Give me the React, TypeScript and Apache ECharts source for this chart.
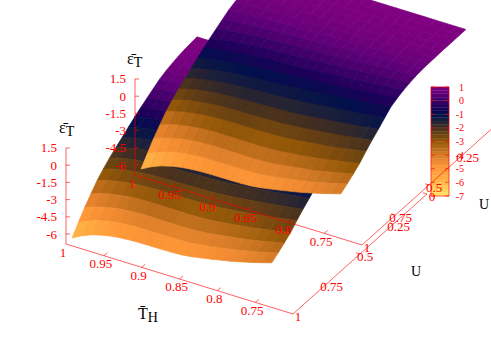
import React, { useEffect, useRef } from "react";
import * as echarts from "echarts";

const thValues = [0.992,0.979,0.966,0.952,0.939,0.926,0.913,0.9,0.886,0.873,0.86,0.847,0.834,0.82,0.807,0.794,0.781,0.768,0.754,0.741,0.728];
const uValues = [1,0.953,0.907,0.86,0.813,0.767,0.72,0.673,0.627,0.58,0.533,0.487,0.44,0.393,0.347,0.3,0.253,0.207,0.16,0.113,0.067];
// rows follow uValues, columns follow thValues
const zGrid = [
[-6.05,-5.6,-5.25,-5,-4.83,-4.73,-4.67,-4.65,-4.64,-4.63,-4.62,-4.58,-4.47,-4.31,-4.15,-3.97,-3.8,-3.58,-3.35,-3.1,-2.85],
[-5.2,-4.81,-4.5,-4.29,-4.15,-4.07,-4.02,-4.02,-4.02,-4.02,-4.02,-3.99,-3.9,-3.76,-3.63,-3.47,-3.33,-3.13,-2.93,-2.71,-2.48],
[-4.4,-4.06,-3.81,-3.62,-3.5,-3.44,-3.4,-3.4,-3.41,-3.42,-3.43,-3.41,-3.33,-3.22,-3.1,-2.96,-2.84,-2.67,-2.49,-2.29,-2.1],
[-3.68,-3.38,-3.16,-3,-2.89,-2.83,-2.81,-2.81,-2.81,-2.82,-2.83,-2.81,-2.75,-2.65,-2.55,-2.43,-2.32,-2.16,-2.01,-1.84,-1.66],
[-3,-2.74,-2.53,-2.38,-2.28,-2.22,-2.19,-2.18,-2.18,-2.17,-2.17,-2.15,-2.09,-1.99,-1.9,-1.79,-1.69,-1.56,-1.42,-1.26,-1.11],
[-2.48,-2.22,-2.02,-1.88,-1.78,-1.71,-1.67,-1.65,-1.64,-1.62,-1.61,-1.58,-1.51,-1.42,-1.33,-1.22,-1.13,-1.01,-0.88,-0.75,-0.61],
[-2,-1.76,-1.57,-1.43,-1.33,-1.26,-1.21,-1.18,-1.15,-1.12,-1.1,-1.06,-0.99,-0.9,-0.81,-0.71,-0.62,-0.51,-0.39,-0.27,-0.15],
[-1.58,-1.35,-1.16,-1.01,-0.9,-0.82,-0.76,-0.71,-0.67,-0.62,-0.58,-0.52,-0.45,-0.35,-0.26,-0.16,-0.07,0.03,0.14,0.25,0.35],
[-1.2,-0.97,-0.78,-0.63,-0.51,-0.42,-0.34,-0.28,-0.23,-0.17,-0.11,-0.04,0.05,0.14,0.23,0.33,0.42,0.52,0.61,0.71,0.81],
[-0.79,-0.58,-0.41,-0.27,-0.15,-0.07,0.01,0.07,0.13,0.19,0.25,0.32,0.4,0.49,0.58,0.66,0.74,0.83,0.92,1,1.08],
[-0.4,-0.21,-0.06,0.07,0.17,0.25,0.31,0.38,0.44,0.49,0.55,0.62,0.69,0.77,0.85,0.92,1,1.07,1.15,1.22,1.29],
[-0.04,0.12,0.26,0.37,0.46,0.53,0.6,0.65,0.7,0.76,0.81,0.87,0.94,1.01,1.07,1.14,1.21,1.27,1.33,1.39,1.45],
[0.3,0.43,0.55,0.64,0.72,0.78,0.83,0.89,0.93,0.98,1.03,1.08,1.14,1.2,1.26,1.31,1.36,1.42,1.47,1.52,1.56],
[0.63,0.74,0.83,0.9,0.96,1.01,1.06,1.1,1.13,1.17,1.21,1.25,1.3,1.35,1.39,1.44,1.48,1.52,1.56,1.59,1.63],
[0.95,1.02,1.09,1.14,1.18,1.22,1.25,1.28,1.31,1.34,1.37,1.4,1.43,1.47,1.5,1.53,1.56,1.59,1.61,1.64,1.67],
[1.18,1.23,1.27,1.31,1.34,1.37,1.39,1.41,1.43,1.45,1.47,1.49,1.52,1.54,1.56,1.58,1.61,1.63,1.65,1.67,1.68],
[1.35,1.38,1.41,1.44,1.46,1.48,1.5,1.51,1.52,1.54,1.55,1.57,1.58,1.6,1.61,1.63,1.64,1.66,1.67,1.69,1.7],
[1.49,1.51,1.53,1.54,1.56,1.57,1.58,1.59,1.6,1.61,1.62,1.62,1.63,1.64,1.65,1.66,1.67,1.67,1.68,1.69,1.71],
[1.6,1.61,1.62,1.62,1.63,1.64,1.64,1.65,1.65,1.66,1.66,1.67,1.67,1.67,1.68,1.68,1.69,1.69,1.7,1.7,1.71],
[1.67,1.67,1.68,1.68,1.68,1.68,1.69,1.69,1.69,1.69,1.7,1.7,1.7,1.7,1.7,1.7,1.71,1.71,1.71,1.71,1.71],
[1.72,1.72,1.72,1.72,1.72,1.72,1.72,1.72,1.72,1.72,1.72,1.72,1.72,1.72,1.72,1.72,1.72,1.72,1.72,1.72,1.72],
];
// colour value read along the two side edges, per row of uValues
const edgeColourLeft = [-6.3,-5.5,-4.7,-4,-3.3,-2.8,-2.3,-1.9,-1.5,-1.1,-0.7,-0.35,0,0.3,0.55,0.7,0.8,0.88,0.94,0.98,1];
const edgeColourRight = [-4.2,-3.7,-3.2,-2.7,-2.25,-1.8,-1.35,-0.95,-0.6,-0.3,0,0.25,0.45,0.6,0.72,0.8,0.86,0.91,0.95,0.98,1];
// colour ripple along the front edge, per column of thValues
const frontRipple = [0,0.15,0.3,0.38,0.44,0.47,0.47,0.42,0.3,0.15,0,-0.05,-0.1,-0.12,-0.14,-0.15,-0.15,-0.12,-0.08,-0.04,0];

const thTicks = [1,0.95,0.9,0.85,0.8,0.75];
const thTickLabels = ["1","0.95","0.9","0.85","0.8","0.75"];
const uTicks = [1,0.75,0.5,0.25,0];
const uTickLabels = ["1","0.75","0.5","0.25","0"];
const zTicks = [1.5,0,-1.5,-3,-4.5,-6];
const zTickLabels = ["1.5","0","-1.5","-3","-4.5","-6"];
const cbTicks = [1,0,-1,-2,-3,-4,-5,-6,-7];
const cbTickLabels = ["1","0","-1","-2","-3","-4","-5","-6","-7"];
const paletteValues = [1,0.5,0,-0.5,-1,-1.5,-2,-2.5,-3,-3.5,-4,-4.5,-5,-5.5,-6,-6.5,-7];
const paletteColours = ["#800080","#5f0078","#3c0068","#1c0058","#00104c","#1c2038","#46301e","#6e4410","#945808","#b86a18","#d87c28","#f08a30","#ff9838","#ffa640","#ffb848","#ffd058","#ffe868"];

const W = 491, H = 343;
const panels = [{ dx: 0, dy: 0 }, { dx: 69, dy: -69 }];
const zFloor = -6.87, zLift = -0.13, thEnd = 0.7;
const bands = 32;

function project(th: number, u: number, z: number, p: { dx: number; dy: number }) {
  return [
    66 + p.dx + (1 - th) * 756.7 + (1 - u) * 134,
    244 + p.dy + (1 - th) * 233.3 - (1 - u) * 120 - (z - zFloor) * 11.47,
  ];
}
const hex = (s: string) => [1, 3, 5].map((i) => parseInt(s.slice(i, i + 2), 16));
function paletteAt(c: number) {
  const v = Math.max(-7, Math.min(1, c));
  const pos = (1 - v) / 0.5;
  const i = Math.min(paletteValues.length - 2, Math.floor(pos));
  const f = pos - i;
  const a = hex(paletteColours[i]), b = hex(paletteColours[i + 1]);
  return `rgb(${a.map((x, n) => Math.round(x + (b[n] - x) * f)).join(",")})`;
}
function colourValue(k: number, j: number) {
  const t = j / (thValues.length - 1);
  const fade = Math.max(0, 1 - k / 10);
  return edgeColourLeft[k] + (edgeColourRight[k] - edgeColourLeft[k]) * t + frontRipple[j] * fade;
}

const cells: number[][] = [];
for (let k = uValues.length - 2; k >= 0; k--)
  for (let j = 0; j < thValues.length - 1; j++) cells.push([k, j]);

function surfaceSeries(p: { dx: number; dy: number }) {
  return {
    type: "custom", silent: true, clip: false, data: cells,
    renderItem: (params: any, api: any) => {
      const [k, j] = cells[params.dataIndex];
      const corners = [[k, j], [k, j + 1], [k + 1, j + 1], [k + 1, j]];
      const pts = corners.map(([a, b]) => api.coord(project(thValues[b], uValues[a], zGrid[a][b] + zLift, p)));
      const mean = corners.reduce((s, [a, b]) => s + colourValue(a, b), 0) / 4;
      const col = paletteAt(mean);
      return { type: "polygon", shape: { points: pts }, style: { fill: col, stroke: col, lineWidth: 0.7 } };
    },
  };
}
const RED = "#ff0000";
const LINE = "rgba(255,0,0,0.62)";
const SERIF = '"Liberation Serif"';
const seg = (a: number[], b: number[]) => ({
  type: "line", shape: { x1: a[0], y1: a[1], x2: b[0], y2: b[1] }, style: { stroke: LINE, lineWidth: 1, fill: "none" },
});
const label = (text: string, at: number[], align = "center", size = 13) => ({
  type: "text", style: { text, x: at[0], y: at[1], fill: RED, font: `${size}px ${SERIF}`, align, verticalAlign: "middle" },
});

function axesSeries() {
  return {
    type: "custom", silent: true, clip: false, data: [[0], [1]],
    renderItem: (params: any, api: any) => {
      const p = panels[params.dataIndex];
      const c = (th: number, u: number, z: number) => api.coord(project(th, u, z, p));
      const kids: any[] = [];
      kids.push(seg(c(1, 1, zFloor), c(thEnd, 1, zFloor)));
      kids.push(seg(c(thEnd, 1, zFloor), c(thEnd, 0, zFloor)));
      kids.push(seg(c(1, 1, zFloor), c(1, 1, zTicks[0])));
      zTicks.forEach((z, i) => {
        const a = c(1, 1, z);
        kids.push(seg(a, [a[0] + 4, a[1]]));
        kids.push(label(zTickLabels[i], [a[0] - 9, a[1]], "right"));
      });
      thTicks.forEach((th, i) => {
        const a = c(th, 1, zFloor);
        if (i > 0) kids.push(seg(a, [a[0] + 3.5, a[1] - 3]));
        kids.push(label(thTickLabels[i], [a[0] - 3, a[1] + 8]));
      });
      uTicks.forEach((u, i) => {
        const a = c(thEnd, u, zFloor);
        if (a[0] > W) return;
        if (i > 0) kids.push(seg(a, [a[0] - 4, a[1] - 1.2]));
        kids.push(label(uTickLabels[i], [a[0] + 5, a[1] + 3]));
      });
      return { type: "group", children: kids };
    },
  };
}
const cbLeft = 431, cbRight = 449, cbTop = 87, cbBottom = 196;
const cbY = (c: number) => cbTop + ((1 - c) / 8) * (cbBottom - cbTop);
const bandIndex = Array.from({ length: bands }, (_, i) => [i]);
function colourBarSeries() {
  return {
    type: "custom", silent: true, clip: false, data: bandIndex,
    renderItem: (params: any, api: any) => {
      const i = params.dataIndex;
      const hi = -7 + ((i + 1) / bands) * 8, lo = -7 + (i / bands) * 8;
      const a = api.coord([cbLeft, cbY(hi)]), b = api.coord([cbRight, cbY(lo)]);
      const col = paletteAt((hi + lo) / 2);
      return { type: "rect", shape: { x: a[0], y: a[1], width: b[0] - a[0], height: b[1] - a[1] }, style: { fill: col, stroke: col, lineWidth: 0.3 } };
    },
  };
}
function colourBarAxis() {
  return {
    type: "custom", silent: true, clip: false, data: [[0]],
    renderItem: (_: any, api: any) => {
      const kids: any[] = [{
        type: "rect", shape: { x: cbLeft, y: cbTop, width: cbRight - cbLeft, height: cbBottom - cbTop },
        style: { fill: "none", stroke: LINE, lineWidth: 1 },
      }];
      cbTicks.forEach((t, i) => {
        const y = api.coord([0, cbY(t)])[1];
        kids.push(seg([cbLeft, y], [cbLeft + 4, y]));
        kids.push(seg([cbRight - 4, y], [cbRight, y]));
        kids.push(label(cbTickLabels[i], [464, y], "right", 10));
      });
      return { type: "group", children: kids };
    },
  };
}
const titleStyle = {
  a: { fontFamily: "Liberation Serif", fontSize: 16, fill: "#000" },
  b: { fontFamily: "Liberation Serif", fontSize: 14, fill: "#000", padding: [7, 0, 0, 0] },
};
const title = (text: string, x: number, y: number) => ({
  type: "text", x, y, style: { text, rich: titleStyle, fill: "#000", align: "left", verticalAlign: "top" },
});

export default function App() {
  const ref = useRef<HTMLDivElement>(null);
  useEffect(() => {
    document.body.style.margin = "0";
    const chart = echarts.init(ref.current!, undefined, { renderer: "svg" });
    chart.setOption({
      animation: false,
      backgroundColor: "#fff",
      grid: { left: 0, right: 0, top: 0, bottom: 0 },
      xAxis: { type: "value", min: 0, max: W, show: false },
      yAxis: { type: "value", min: 0, max: H, inverse: true, show: false },
      series: [surfaceSeries(panels[0]), surfaceSeries(panels[1]), colourBarSeries(), colourBarAxis(), axesSeries()],
      graphic: [
        title("{a|ε̄}{b|T}", 59, 117),
        title("{a|ε̄}{b|T}", 127, 48),
        title("{a|T̄}{b|H}", 138, 303),
        title("{a|T̄}{b|H}", 206, 234),
        { type: "text", x: 416, y: 271, style: { text: "U", fill: "#000", font: `14px ${SERIF}`, align: "center", verticalAlign: "middle" } },
        { type: "text", x: 484, y: 204, style: { text: "U", fill: "#000", font: `14px ${SERIF}`, align: "center", verticalAlign: "middle" } },
      ],
    });
    return () => chart.dispose();
  }, []);
  return <div ref={ref} style={{ width: W, height: H }} />;
}
